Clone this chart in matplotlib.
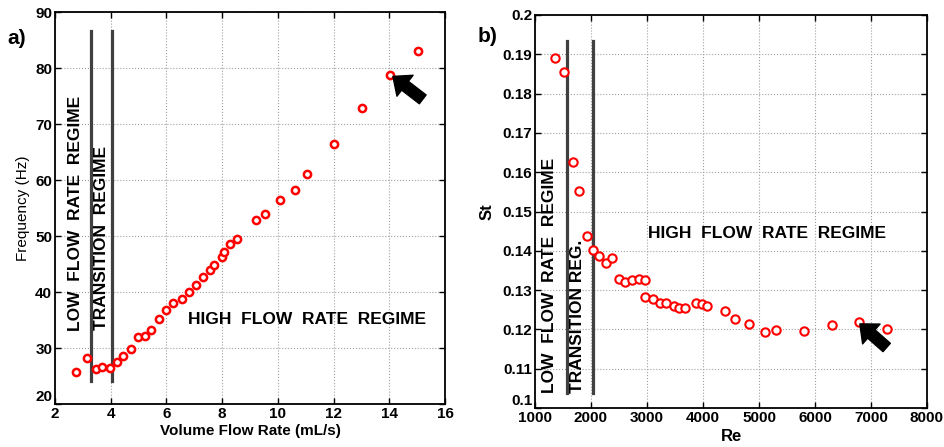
import matplotlib
matplotlib.use("Agg")
import matplotlib.pyplot as plt

plt.rcParams['font.family'] = ['Liberation Sans', 'DejaVu Sans']

# ---- Panel a data ----
flow_rate = [2.77, 3.14, 3.46, 3.70, 3.97, 4.24, 4.45, 4.72, 4.99, 5.23, 5.45, 5.73,
             6.00, 6.22, 6.56, 6.80, 7.07, 7.30, 7.55, 7.72, 7.98, 8.07, 8.28, 8.52,
             9.20, 9.53, 10.08, 10.61, 11.03, 12.03, 13.03, 14.01, 15.03]
frequency = [25.7, 28.2, 26.2, 26.6, 26.5, 27.5, 28.6, 29.9, 31.9, 32.2, 33.3, 35.1,
             36.7, 38.1, 38.7, 40.0, 41.3, 42.7, 44.0, 44.8, 46.2, 47.1, 48.5, 49.5,
             52.9, 53.9, 56.5, 58.3, 61.0, 66.4, 72.8, 78.8, 83.1]
a_xticks = [2, 4, 6, 8, 10, 12, 14, 16]
a_yticks = [20, 30, 40, 50, 60, 70, 80, 90]

# ---- Panel b data ----
reynolds = [1356, 1522, 1683, 1784, 1920, 2039, 2140, 2259, 2377, 2496, 2603, 2740,
            2858, 2972, 2972, 3107, 3239, 3346, 3476, 3571, 3684, 3880, 3975, 4069,
            4384, 4563, 4830, 5109, 5311, 5809, 6296, 6789, 7283]
strouhal = [0.1890, 0.1854, 0.1625, 0.1552, 0.1437, 0.1402, 0.1387, 0.1370, 0.1381,
            0.1328, 0.1321, 0.1326, 0.1328, 0.1325, 0.1282, 0.1278, 0.1266, 0.1266,
            0.1260, 0.1255, 0.1254, 0.1266, 0.1265, 0.1260, 0.1248, 0.1226, 0.1214,
            0.1193, 0.1199, 0.1196, 0.1211, 0.1220, 0.1201]
b_xticks = [1000, 2000, 3000, 4000, 5000, 6000, 7000, 8000]
b_yticks = [0.1, 0.11, 0.12, 0.13, 0.14, 0.15, 0.16, 0.17, 0.18, 0.19, 0.2]
b_yticklabels = ['0.1', '0.11', '0.12', '0.13', '0.14', '0.15', '0.16', '0.17', '0.18', '0.19', '0.2']

# regime boundaries
a_bounds = [3.29, 4.06]
a_bound_y = (24.1, 86.6)
b_bounds = [1564, 2027]
b_bound_y = (0.1038, 0.1935)

W, H = 944, 447
fig = plt.figure(figsize=(W / 100, H / 100), dpi=100)

ax1 = fig.add_axes([55 / W, (H - 404) / H, 390 / W, 392 / H])
ax2 = fig.add_axes([535 / W, (H - 408) / H, 392 / W, 393 / H])

tick_fs = 11
text_fs = 12.5

for ax in (ax1, ax2):
    ax.grid(True, linestyle=':', color='#a0a0a0', linewidth=0.8)
    ax.set_axisbelow(True)
    ax.tick_params(direction='in', top=True, right=True, length=4, width=1,
                   labelsize=tick_fs, pad=2)
    for sp in ax.spines.values():
        sp.set_linewidth(1.3)

# Panel a
ax1.plot(flow_rate, frequency, 'o', markersize=5.2, markerfacecolor='white',
         markeredgecolor='red', markeredgewidth=1.8, zorder=3)
ax1.set_xlim(2, 16)
ax1.set_ylim(20, 90)
ax1.set_xticks(a_xticks)
ax1.set_yticks(a_yticks)
ax1.set_xticklabels([str(t) for t in a_xticks], fontweight='bold')
ax1.set_yticklabels([str(t) for t in a_yticks], fontweight='bold')
ax1.get_yticklabels()[0].set_va('bottom')
ax1.set_xlabel('Volume Flow Rate (mL/s)', fontsize=11, fontweight='bold', labelpad=2)
ax1.set_ylabel('Frequency (Hz)', fontsize=11, labelpad=4)
for xb in a_bounds:
    ax1.plot([xb, xb], a_bound_y, color='#404040', linewidth=2.3, zorder=2)
ax1.text(2.75, 33.0, 'LOW  FLOW  RATE  REGIME', rotation=90, ha='center', va='bottom',
         fontsize=text_fs, fontweight='bold')
ax1.text(3.67, 33.2, 'TRANSITION  REGIME', rotation=90, ha='center', va='bottom',
         fontsize=text_fs, fontweight='bold')
ax1.text(11.03, 35.0, 'HIGH  FLOW  RATE  REGIME', ha='center', va='center',
         fontsize=text_fs, fontweight='bold')
ax1.annotate('', xy=(14.13, 78.5), xytext=(15.2, 74.4),
             arrowprops=dict(facecolor='black', edgecolor='black', width=8,
                             headwidth=19, headlength=11, shrink=0))
fig.text(17 / W, 1 - 38 / H, 'a)', fontsize=15, fontweight='bold', ha='center', va='center')

# Panel b
ax2.plot(reynolds, strouhal, 'o', markersize=6.0, markerfacecolor='white',
         markeredgecolor='red', markeredgewidth=1.5, zorder=3)
ax2.set_xlim(1000, 8000)
ax2.set_ylim(0.1, 0.2)
ax2.set_xticks(b_xticks)
ax2.set_yticks(b_yticks)
ax2.set_xticklabels([str(t) for t in b_xticks], fontweight='bold')
ax2.set_yticklabels(b_yticklabels, fontweight='bold')
ax2.get_yticklabels()[0].set_va('bottom')
ax2.set_xlabel('Re', fontsize=12, fontweight='bold', labelpad=3)
ax2.set_ylabel('St', fontsize=12, fontweight='bold', labelpad=6)
for xb in b_bounds:
    ax2.plot([xb, xb], b_bound_y, color='#404040', linewidth=2.3, zorder=2)
ax2.text(1250, 0.1038, 'LOW  FLOW  RATE  REGIME', rotation=90, ha='center', va='bottom',
         fontsize=text_fs, fontweight='bold')
ax2.text(1766, 0.1038, 'TRANSITION REG.', rotation=90, ha='center', va='bottom',
         fontsize=text_fs, fontweight='bold')
ax2.text(5141, 0.1443, 'HIGH  FLOW  RATE  REGIME', ha='center', va='center',
         fontsize=text_fs, fontweight='bold')
ax2.annotate('', xy=(6801, 0.1214), xytext=(7280, 0.1154),
             arrowprops=dict(facecolor='black', edgecolor='black', width=8,
                             headwidth=19, headlength=11, shrink=0))
fig.text(488 / W, 1 - 36 / H, 'b)', fontsize=15, fontweight='bold', ha='center', va='center')

fig.savefig('out.png', dpi=100)
